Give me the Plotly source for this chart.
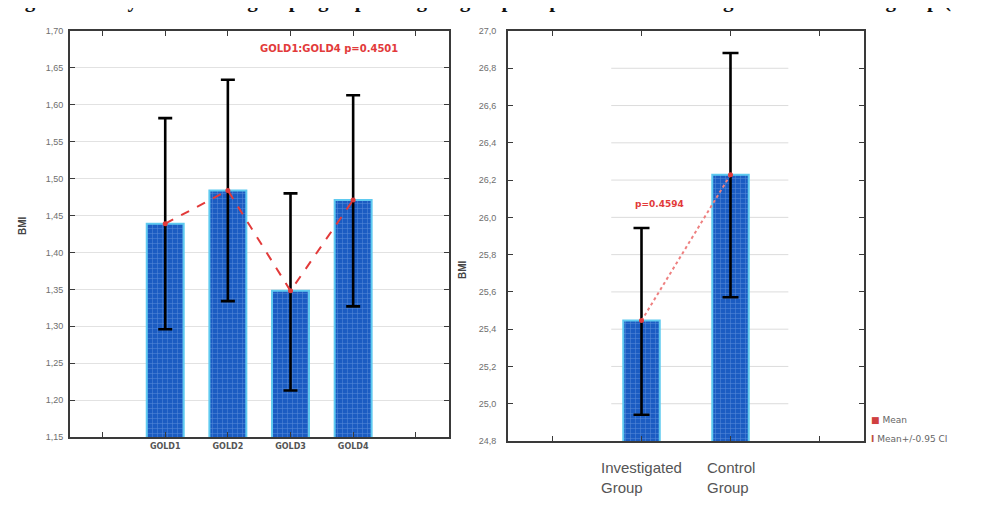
import plotly.graph_objects as go

# ---- data ----
gold_labels = ["GOLD1", "GOLD2", "GOLD3", "GOLD4"]
gold_pos = [1, 2, 3, 4]
gold_mean = [1.439, 1.484, 1.348, 1.471]
gold_ci_upper = [1.582, 1.634, 1.480, 1.613]
gold_ci_lower = [1.296, 1.334, 1.213, 1.327]

group_labels = ["Investigated<br>Group", "Control<br>Group"]
group_pos = [1, 2]
group_mean = [25.446, 26.229]
group_ci_upper = [25.943, 26.882]
group_ci_lower = [24.941, 25.571]

left_yticks = [1.15, 1.20, 1.25, 1.30, 1.35, 1.40, 1.45, 1.50, 1.55, 1.60, 1.65, 1.70]
right_yticks = [24.8, 25.0, 25.2, 25.4, 25.6, 25.8, 26.0, 26.2, 26.4, 26.6, 26.8, 27.0]

W, H = 995, 518
def px_x(p): return p / W
def px_y(p): return 1 - p / H

BAR_BG = "#1b5cc2"
BAR_GRID = "#8fb6ee"
BAR_EDGE = "#5fcaf0"
RED = "#e23a3a"
FRAME = "#3a3a3a"

fig = go.Figure()

# left panel bars
fig.add_trace(go.Bar(
    x=gold_pos, y=gold_mean, width=0.59,
    marker=dict(color=BAR_BG, line=dict(color=BAR_EDGE, width=2),
                pattern=dict(shape="+", fgcolor=BAR_GRID, bgcolor=BAR_BG, size=5, solidity=0.2)),
    error_y=dict(type="data", symmetric=False,
                 array=[u - m for u, m in zip(gold_ci_upper, gold_mean)],
                 arrayminus=[m - l for m, l in zip(gold_mean, gold_ci_lower)],
                 color="#000000", thickness=2.6, width=7),
    xaxis="x", yaxis="y", showlegend=False, hoverinfo="skip",
))
fig.add_trace(go.Scatter(
    x=gold_pos, y=gold_mean, mode="lines+markers",
    line=dict(color=RED, width=2, dash="dash"),
    marker=dict(color=RED, size=5),
    xaxis="x", yaxis="y", showlegend=False, hoverinfo="skip",
))

# right panel bars
fig.add_trace(go.Bar(
    x=group_pos, y=group_mean, width=0.41,
    marker=dict(color=BAR_BG, line=dict(color=BAR_EDGE, width=2),
                pattern=dict(shape="+", fgcolor=BAR_GRID, bgcolor=BAR_BG, size=5, solidity=0.2)),
    error_y=dict(type="data", symmetric=False,
                 array=[u - m for u, m in zip(group_ci_upper, group_mean)],
                 arrayminus=[m - l for m, l in zip(group_mean, group_ci_lower)],
                 color="#000000", thickness=2.6, width=8),
    xaxis="x2", yaxis="y2", showlegend=False, hoverinfo="skip",
))
fig.add_trace(go.Scatter(
    x=group_pos, y=group_mean, mode="lines+markers",
    line=dict(color="#ee8080", width=2, dash="dot"),
    marker=dict(color=RED, size=5),
    xaxis="x2", yaxis="y2", showlegend=False, hoverinfo="skip",
))

tickfont = dict(family="Arial, Liberation Sans, sans-serif", size=9, color="#6e6e6e")

fig.update_layout(
    width=W, height=H,
    margin=dict(l=0, r=0, t=0, b=0, autoexpand=False),
    paper_bgcolor="white", plot_bgcolor="white",
    xaxis=dict(domain=[px_x(62), px_x(441)], range=[-0.52, 5.53], anchor="y",
               tickvals=[0, 1, 2, 3, 4, 5], ticktext=[""] + [f"<b>{g}</b>" for g in gold_labels] + [""],
               ticks="inside", ticklen=5, tickcolor=FRAME, tickwidth=1,
               showline=True, linecolor=FRAME, linewidth=2, mirror="ticks",
               showgrid=False, zeroline=False,
               tickfont=dict(family="DejaVu Sans, sans-serif", size=8, color="#555555")),
    yaxis=dict(domain=[px_y(429), px_y(23)], range=[1.15, 1.70], anchor="x",
               tickvals=left_yticks, ticktext=[f"{v:.2f}".replace(".", ",") for v in left_yticks],
               ticks="inside", ticklen=5, tickcolor=FRAME, tickwidth=1,
               showline=True, linecolor=FRAME, linewidth=2, mirror="ticks",
               showgrid=True, gridcolor="#e2e2e2", gridwidth=1, zeroline=False,
               tickfont=tickfont, ticklabelstandoff=3),
    xaxis2=dict(domain=[px_x(500), px_x(856)], range=[-0.5, 3.5], anchor="y2",
                tickvals=[0, 1, 2, 3], ticktext=["", "", "", ""],
                ticks="inside", ticklen=5, tickcolor=FRAME, tickwidth=1,
                showline=True, linecolor=FRAME, linewidth=2, mirror="ticks",
                showgrid=False, zeroline=False),
    yaxis2=dict(domain=[px_y(433), px_y(23)], range=[24.8, 27.0], anchor="x2",
                tickvals=right_yticks, ticktext=[f"{v:.1f}".replace(".", ",") for v in right_yticks],
                ticks="inside", ticklen=5, tickcolor=FRAME, tickwidth=1,
                showline=True, linecolor=FRAME, linewidth=2, mirror="ticks",
                showgrid=False, zeroline=False,
                tickfont=tickfont, ticklabelstandoff=8),
)

# partial grid lines in right panel
shapes = []
for v in right_yticks[1:-1]:
    shapes.append(dict(type="line", xref="x2", yref="y2", x0=0.66, x1=2.65, y0=v, y1=v,
                       line=dict(color="#dcdcdc", width=1), layer="below"))
fig.update_layout(shapes=shapes)

ann = []
# caption line, cropped at the top edge as in the source image
ann.append(dict(text="<b>Figure 3. Body mass index grouping depending on groups of patients and investigated and control group (BMI)</b>",
                xref="paper", yref="paper", x=px_x(-4), y=px_y(6), xanchor="left", yanchor="bottom",
                showarrow=False, font=dict(family="Liberation Serif, serif", size=21, color="#111111")))
ann.append(dict(text="<b>BMI</b>", xref="paper", yref="paper", x=px_x(14), y=px_y(218),
                xanchor="center", yanchor="middle",
                textangle=-90, showarrow=False, font=dict(family="Arial, sans-serif", size=10, color="#444444")))
ann.append(dict(text="<b>BMI</b>", xref="paper", yref="paper", x=px_x(454), y=px_y(262),
                xanchor="center", yanchor="middle",
                textangle=-90, showarrow=False, font=dict(family="Arial, sans-serif", size=10, color="#444444")))
ann.append(dict(text="<b>GOLD1:GOLD4 p=0.4501</b>", xref="paper", yref="paper", x=px_x(321), y=px_y(41),
                xanchor="center", yanchor="middle",
                showarrow=False, font=dict(family="DejaVu Sans, sans-serif", size=10, color=RED)))
ann.append(dict(text="<b>p=0.4594</b>", xref="paper", yref="paper", x=px_x(651), y=px_y(196),
                xanchor="center", yanchor="middle",
                showarrow=False, font=dict(family="DejaVu Sans, sans-serif", size=9, color=RED)))
for p, lab in zip(group_pos, group_labels):
    ann.append(dict(text=lab, xref="x2", yref="paper", x=p, y=px_y(449),
                    xanchor="center", yanchor="top",
                    align="left", showarrow=False,
                    font=dict(family="Arial, Liberation Sans, sans-serif", size=15, color="#555555")))
ann.append(dict(text="<span style='color:#d04040'>■</span> Mean", xref="paper", yref="paper",
                x=px_x(861), y=px_y(412), xanchor="left", yanchor="middle", showarrow=False,
                font=dict(family="DejaVu Sans, sans-serif", size=9, color="#666666")))
ann.append(dict(text="<span style='color:#c05040'><b>I</b></span> Mean+/-0.95 CI", xref="paper", yref="paper",
                x=px_x(861), y=px_y(431), xanchor="left", yanchor="middle", showarrow=False,
                font=dict(family="DejaVu Sans, sans-serif", size=9, color="#666666")))
fig.update_layout(annotations=ann)

fig.write_html("out.html")
